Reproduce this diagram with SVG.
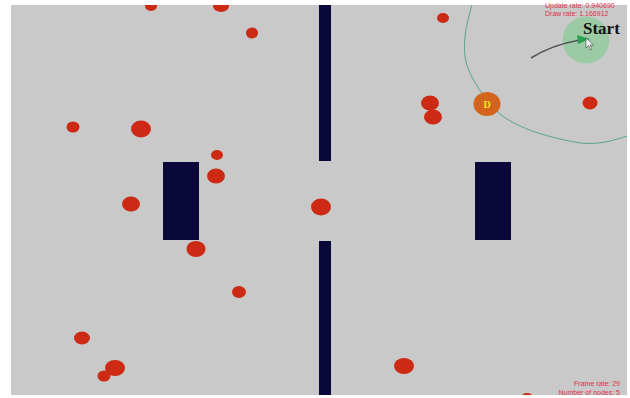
<svg xmlns="http://www.w3.org/2000/svg" width="630" height="398" viewBox="0 0 630 398">
<defs>
<style>
.bg{fill:#c9c9c9}
.wall{fill:#0a0838}
.dot{fill:#cc2a14}
.info{font-family:"Liberation Sans",Arial,sans-serif;font-size:7px;fill:#e0304a}
.path{fill:none;stroke:#5aa58a;stroke-width:1}
</style>
<clipPath id="area"><rect x="11" y="5" width="616" height="390"/></clipPath>
</defs>
<rect width="630" height="398" fill="#ffffff"/>
<rect class="bg" x="11" y="5" width="616" height="390"/>
<g clip-path="url(#area)">
<g id="walls">
<rect class="wall" x="319" y="5" width="12" height="156"/>
<rect class="wall" x="319" y="241" width="12" height="154"/>
<rect class="wall" x="163" y="162" width="36" height="78"/>
<rect class="wall" x="475" y="162" width="36" height="78"/>
</g>
<g id="obstacles">
<ellipse class="dot" cx="151" cy="6" rx="6" ry="5"/>
<ellipse class="dot" cx="221" cy="6" rx="8" ry="6"/>
<ellipse class="dot" cx="252" cy="33" rx="6" ry="5.5"/>
<ellipse class="dot" cx="73" cy="127" rx="6.5" ry="5.5"/>
<ellipse class="dot" cx="141" cy="129" rx="10" ry="8.5"/>
<ellipse class="dot" cx="217" cy="155" rx="6" ry="5"/>
<ellipse class="dot" cx="216" cy="176" rx="9" ry="7.5"/>
<ellipse class="dot" cx="131" cy="204" rx="9" ry="7.5"/>
<ellipse class="dot" cx="196" cy="249" rx="9.5" ry="8"/>
<ellipse class="dot" cx="321" cy="207" rx="10" ry="8.5"/>
<ellipse class="dot" cx="239" cy="292" rx="7" ry="6"/>
<ellipse class="dot" cx="82" cy="338" rx="8" ry="6.5"/>
<ellipse class="dot" cx="115" cy="368" rx="10" ry="8"/>
<ellipse class="dot" cx="104" cy="376" rx="6.5" ry="5.5"/>
<ellipse class="dot" cx="443" cy="18" rx="6" ry="5"/>
<ellipse class="dot" cx="430" cy="103" rx="9" ry="7.5"/>
<ellipse class="dot" cx="433" cy="117" rx="9" ry="7.5"/>
<ellipse class="dot" cx="590" cy="103" rx="7.5" ry="6.5"/>
<ellipse class="dot" cx="404" cy="366" rx="10" ry="8"/>
<ellipse class="dot" cx="527" cy="397" rx="6" ry="4"/>
</g>
<g id="start">
<circle cx="586" cy="40" r="23.5" fill="#9ccaa4"/>
</g>
<g id="connectors">
<path class="path" d="M472,5 C466,25 462,45 466,62 C471,80 485,100 500,114 C515,126 540,136 580,143 C600,145 615,140 627,136"/>
<path d="M531,58 C545,49 563,43 580,40" fill="none" stroke="#505458" stroke-width="1.5"/>
<polygon points="577,35 590,39 578,44" fill="#2aa050"/>
</g>
</g>
<g id="start-label">
<text x="583" y="33.5" font-family="'Liberation Serif','Times New Roman',serif" font-size="17" font-weight="bold" fill="#111">Start</text>
<path d="M586,38 L586,48 L588.5,45.5 L590.5,50 L592,49.3 L590,45 L593.5,45 Z" fill="#f4f4f4" stroke="#444" stroke-width="0.6"/>
</g>
<g id="destination">
<ellipse cx="487" cy="104" rx="13.5" ry="12" fill="#d2641e"/>
<text x="487" y="107.5" text-anchor="middle" font-family="'Liberation Serif','Times New Roman',serif" font-size="10" font-weight="bold" fill="#f6e030">D</text>
</g>
<g id="stats">
<text class="info" x="545" y="8">Update rate: 0.940690</text>
<text class="info" x="545" y="16">Draw rate: 1.166912</text>
<text class="info" x="620" y="386" text-anchor="end">Frame rate: 29</text>
<text class="info" x="620" y="394.5" text-anchor="end">Number of nodes: 5</text>
</g>
</svg>
